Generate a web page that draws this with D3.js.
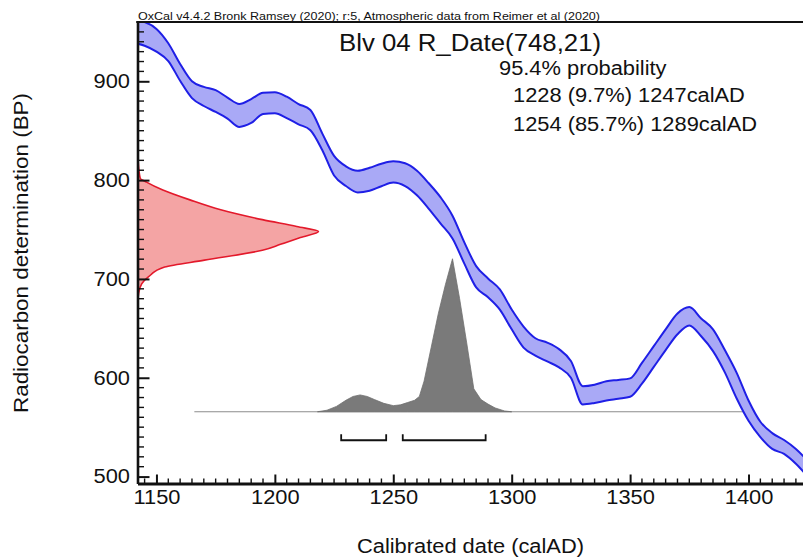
<!DOCTYPE html>
<html><head><meta charset="utf-8">
<script src="https://cdn.jsdelivr.net/npm/d3@7"></script>
<style>
html,body{margin:0;padding:0;background:#fff;}
svg{display:block;}
text{font-family:"Liberation Sans",Arial,Helvetica,sans-serif;fill:#111;}
</style>
</head><body>
<svg id="c" width="803" height="560"></svg>
<script>
// ---------- data ----------
const curveYears = [1140,1145,1150,1155,1160,1165,1170,1175,1180,1185,1190,1195,1200,1205,1210,1215,1220,1225,1230,1235,1240,1245,1250,1255,1260,1265,1270,1275,1280,1285,1290,1295,1300,1305,1310,1315,1320,1325,1330,1335,1340,1345,1350,1355,1360,1365,1370,1375,1380,1385,1390,1395,1400,1405,1410,1415,1420,1425];
const curveUpper = [962,960,953,938.5,917.5,900,894.3,891,883.5,877,882,888.3,889,884.4,877,871,847.3,824.5,814,809.5,812.5,816.6,819,817,809.5,796.8,782.5,764,737,713,700.5,689.4,669,651.8,640,635.6,629,617,591.5,593,596.5,597.8,599.4,615,632,649,665,671.5,660,649,628,605,577,555.5,544,537,528,516];
const curveLower = [939,936,930,920.5,900.5,883,875,869,862.3,853.8,857.8,866.8,867.6,862.7,856.5,850.5,830.5,804.7,794,787.5,789.3,793.8,797.5,794,784.6,771,756,741,715.5,691.4,681.5,669,649,630.5,622.5,616.5,610.5,600,573,574.5,577,578.8,580.8,594,611,628,644,653,642,627,605.5,579,556.5,540,528,523,513,500];

const rDateBP   = [826,818,810,802,798,790,780,770,760,753,748,742,735,729,719,712,702,695,685,672];
const rDateProb = [0,0.004,0.008,0.015,0.05,0.14,0.29,0.46,0.69,0.88,1.0,0.90,0.79,0.69,0.37,0.15,0.06,0.023,0.006,0];

const calYears = [1218,1222,1226,1230,1233,1236,1239,1242,1246,1250,1253,1256,1259,1261,1263,1266,1269,1272,1275,1278,1281,1284,1287,1290,1293,1297,1300];
const calProb  = [0,0.01,0.035,0.075,0.1,0.11,0.1,0.08,0.055,0.04,0.045,0.06,0.075,0.1,0.2,0.42,0.64,0.83,1.0,0.74,0.45,0.15,0.08,0.05,0.025,0.005,0];

const rangeFrom = [1228,1254];
const rangeTo   = [1247,1289];
const rangePct  = ["9.7","85.7"];

const xTicks = [1150,1200,1250,1300,1350,1400];
const yTicks = [500,600,700,800,900];

const sampleName = "Blv 04";
const rDate = [748,21];
const creditText = "OxCal v4.4.2 Bronk Ramsey (2020); r:5, Atmospheric data from Reimer et al (2020)";
const probText = "95.4% probability";
const xTitle = "Calibrated date (calAD)";
const yTitle = "Radiocarbon determination (BP)";

// ---------- layout ----------
const L = 137.5, R = 803, T = 22, B = 483.5;
const K = 1.12; // horizontal glyph stretch
const svg = d3.select("#c");
svg.append("rect").attr("width",803).attr("height",560).attr("fill","#fff");

const x = d3.scaleLinear().domain([1142,1423]).range([L,R]);
const y = d3.scaleLinear().domain([493,960]).range([B,T]);

function stretch(sel,k){
  sel.each(function(){
    const w=this.getComputedTextLength();
    d3.select(this).attr("textLength",w*k).attr("lengthAdjust","spacingAndGlyphs");
  });
}

svg.append("clipPath").attr("id","plotclip").append("rect")
  .attr("x",L).attr("y",T).attr("width",R-L).attr("height",B-T);
const plot = svg.append("g").attr("clip-path","url(#plotclip)");

// ---------- R_Date distribution (red, on y axis) ----------
const hR = d3.scaleLinear().domain([0,1]).range([0,181]);
const rd = rDateBP.map((b,i)=>({b, p:rDateProb[i]}));
plot.append("path").datum(rd)
  .attr("d", d3.area().curve(d3.curveMonotoneY).y(d=>y(d.b)).x0(L).x1(d=>L+hR(d.p)))
  .attr("fill","#f4a4a4").attr("stroke","#e3192b").attr("stroke-width",1.6);

// ---------- calibrated distribution (grey) ----------
const baseY = y(565.6);
const hG = d3.scaleLinear().domain([0,1]).range([0,153]);
plot.append("line").attr("x1",x(1166)).attr("x2",x(1400)).attr("y1",baseY).attr("y2",baseY)
  .attr("stroke","#8c8c8c").attr("stroke-width",1.2);
const cd = calYears.map((yr,i)=>({yr, p:calProb[i]}));
plot.append("path").datum(cd)
  .attr("d", d3.area().curve(d3.curveLinear).x(d=>x(d.yr)).y0(baseY).y1(d=>baseY-hG(d.p)))
  .attr("fill","#7a7a7a").attr("stroke","#707070").attr("stroke-width",0.8);

// ---------- calibration curve (blue band) ----------
const cv = curveYears.map((yr,i)=>({yr, u:curveUpper[i], l:curveLower[i]}));
plot.append("path").datum(cv)
  .attr("d", d3.area().curve(d3.curveMonotoneX).x(d=>x(d.yr)).y0(d=>y(d.l)).y1(d=>y(d.u)))
  .attr("fill","#a9a9f6").attr("stroke","none");
["u","l"].forEach(k=>{
  plot.append("path").datum(cv)
    .attr("d", d3.line().curve(d3.curveMonotoneX).x(d=>x(d.yr)).y(d=>y(d[k])))
    .attr("fill","none").attr("stroke","#1f1fe6").attr("stroke-width",2);
});

// ---------- range brackets ----------
const brY = baseY + 28.5;
rangeFrom.forEach((f,i)=>{
  const t = rangeTo[i];
  svg.append("path")
    .attr("d", `M${x(f)},${brY-6}V${brY}H${x(t)}V${brY-6}`)
    .attr("fill","none").attr("stroke","#111").attr("stroke-width",1.8);
});

// ---------- axes ----------
const yMinor = d3.range(500,961,10).filter(v=>v%100!==0);
const xMinor = d3.range(1145,1421,5).filter(v=>v%50!==0);

svg.append("g").selectAll("line").data(yMinor).join("line")
  .attr("x1",L).attr("x2",L+6.5).attr("y1",d=>y(d)).attr("y2",d=>y(d))
  .attr("stroke","#111").attr("stroke-width",1.4);
svg.append("g").selectAll("line").data(xMinor).join("line")
  .attr("y1",B).attr("y2",B-5).attr("x1",d=>x(d)).attr("x2",d=>x(d))
  .attr("stroke","#111").attr("stroke-width",1.4);

const gy = svg.append("g").attr("transform",`translate(${L},0)`)
  .call(d3.axisLeft(y).tickValues(yTicks).tickSize(-12).tickSizeOuter(0).tickPadding(7.5).tickFormat(d3.format("d")));
gy.select(".domain").attr("stroke","#111").attr("stroke-width",2.6);
gy.selectAll(".tick line").attr("stroke","#111").attr("stroke-width",2);
gy.selectAll("text").attr("font-size",19.5).attr("fill","#111")
  .style("font-family",'"Liberation Sans",Arial,sans-serif');
stretch(gy.selectAll("text"),K);

const gx = svg.append("g").attr("transform",`translate(0,${B})`)
  .call(d3.axisBottom(x).tickValues(xTicks).tickSize(-9).tickSizeOuter(0).tickPadding(6.5).tickFormat(d3.format("d")));
gx.select(".domain").attr("stroke","#111").attr("stroke-width",2.8);
gx.selectAll(".tick line").attr("stroke","#111").attr("stroke-width",2);
gx.selectAll("text").attr("font-size",19.5).attr("fill","#111")
  .style("font-family",'"Liberation Sans",Arial,sans-serif');
stretch(gx.selectAll("text"),K);

// top frame line
svg.append("line").attr("x1",L-1.3).attr("x2",R).attr("y1",T).attr("y2",T)
  .attr("stroke","#111").attr("stroke-width",2.2);

// ---------- texts ----------
const credit = svg.append("text").attr("x",138).attr("y",19.5).attr("font-size",11.5).text(creditText);
credit.attr("textLength",462).attr("lengthAdjust","spacingAndGlyphs");

const title = svg.append("text").attr("x",339).attr("y",50.5).attr("font-size",23)
  .text(`${sampleName} R_Date(${rDate[0]},${rDate[1]})`);
stretch(title,K);

const p1 = svg.append("text").attr("x",499).attr("y",75).attr("font-size",19.5).text(probText);
stretch(p1,K);
rangeFrom.forEach((f,i)=>{
  const t = svg.append("text").attr("x",513).attr("y",102.3+i*28.4).attr("font-size",19.5)
    .text(`${f} (${rangePct[i]}%) ${rangeTo[i]}calAD`);
  stretch(t,K);
});

const xt = svg.append("text").attr("x",470.5).attr("y",553).attr("text-anchor","middle")
  .attr("font-size",19.5).text(xTitle);
stretch(xt,K);

const yt = svg.append("text").attr("transform",`translate(28,253) rotate(-90)`)
  .attr("text-anchor","middle").attr("font-size",20).text(yTitle);
stretch(yt,K);
</script>
</body></html>
